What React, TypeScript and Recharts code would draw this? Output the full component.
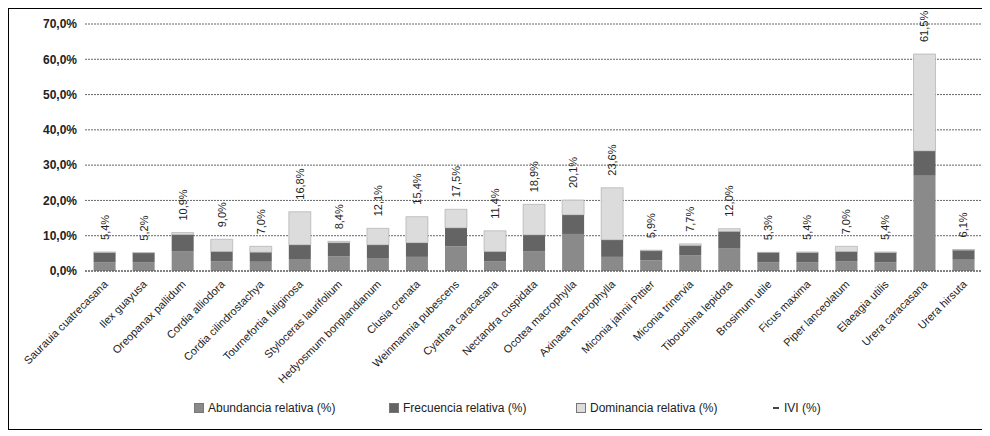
import React from 'react';
import {
  ComposedChart,
  Bar,
  Line,
  XAxis,
  YAxis,
  CartesianGrid,
  LabelList,
} from 'recharts';

// species, read left to right
const species = [
  'Saurauia cuatrecasana',
  'Ilex guayusa',
  'Oreopanax pallidum',
  'Cordia alliodora',
  'Cordia cilindrostachya',
  'Tournefortia fuliginosa',
  'Styloceras laurifolium',
  'Hedyosmum bonplandianum',
  'Clusia crenata',
  'Weinmannia pubescens',
  'Cyathea caracasana',
  'Nectandra cuspidata',
  'Ocotea macrophylla',
  'Axinaea macrophylla',
  'Miconia jahnii Pittier',
  'Miconia trinervia',
  'Tibouchina lepidota',
  'Brosimum utile',
  'Ficus maxima',
  'Piper lanceolatum',
  'Elaeagia utilis',
  'Urera caracasana',
  'Urera hirsuta',
];

const abundancia = [2.5, 2.4, 5.5, 2.8, 2.6, 3.4, 4.2, 3.5, 4.0, 7.0, 2.8, 5.5, 10.5, 4.0, 3.0, 4.5, 6.5, 2.5, 2.5, 2.8, 2.5, 27.0, 3.2];
const frecuencia = [2.7, 2.7, 4.8, 2.7, 2.7, 4.0, 3.8, 3.9, 4.0, 5.2, 2.7, 4.7, 5.4, 4.8, 2.7, 2.7, 4.7, 2.7, 2.7, 2.7, 2.7, 7.0, 2.7];
const dominancia = [0.2, 0.1, 0.6, 3.5, 1.7, 9.4, 0.4, 4.7, 7.4, 5.3, 5.9, 8.7, 4.2, 14.8, 0.2, 0.5, 0.8, 0.1, 0.2, 1.5, 0.2, 27.5, 0.2];
const ivi = [5.4, 5.2, 10.9, 9.0, 7.0, 16.8, 8.4, 12.1, 15.4, 17.5, 11.4, 18.9, 20.1, 23.6, 5.9, 7.7, 12.0, 5.3, 5.4, 7.0, 5.4, 61.5, 6.1];

const yTicks = [0, 10, 20, 30, 40, 50, 60, 70];

const COLORS = {
  abundancia: '#8a8a8a',
  frecuencia: '#646464',
  dominancia: '#dcdcdc',
};

const data = species.map((name, i) => ({
  name,
  abundancia: abundancia[i],
  frecuencia: frecuencia[i],
  dominancia: dominancia[i],
  ivi: ivi[i],
}));

const pct = (v: number) => `${v.toFixed(1).replace('.', ',')}%`;

const FONT = '"Liberation Sans", Arial, sans-serif';

function SpeciesTick({ x, y, payload }: any) {
  return (
    <text
      transform={`translate(${x + 4},${y + 6}) rotate(-45)`}
      textAnchor="end"
      fontSize={11}
      fontFamily={FONT}
      fill="#222"
    >
      {payload.value}
    </text>
  );
}

function IviLabel({ x, y, value }: any) {
  return (
    <text
      transform={`translate(${x + 4},${y - 12}) rotate(-90)`}
      textAnchor="start"
      fontSize={11}
      fontFamily={FONT}
      fill="#222"
    >
      {pct(value)}
    </text>
  );
}

const legendItems = [
  { label: 'Abundancia relativa (%)', color: COLORS.abundancia, left: 185 },
  { label: 'Frecuencia relativa (%)', color: COLORS.frecuencia, left: 380 },
  { label: 'Dominancia relativa (%)', color: COLORS.dominancia, left: 567 },
];

export default function App() {
  return (
    <div
      style={{
        position: 'relative',
        width: 976,
        height: 420,
        border: '1px solid #000',
        background: '#fff',
        fontFamily: FONT,
      }}
    >
      <ComposedChart
        width={976}
        height={420}
        data={data}
        margin={{ top: 15, right: 2, left: 0, bottom: 0 }}
        barCategoryGap="22%"
      >
        <CartesianGrid vertical={false} stroke="#666" strokeDasharray="2 1" />
        <XAxis
          dataKey="name"
          interval={0}
          height={158}
          tick={<SpeciesTick />}
          tickLine={false}
          axisLine={{ stroke: '#555', strokeDasharray: '2 1' }}
        />
        <YAxis
          width={76}
          domain={[0, 70]}
          ticks={yTicks}
          tickFormatter={pct}
          axisLine={false}
          tickLine={false}
          tick={{ fontSize: 12, fontWeight: 'bold', fill: '#222', fontFamily: FONT }}
        />
        <Bar dataKey="abundancia" stackId="a" fill={COLORS.abundancia} isAnimationActive={false} />
        <Bar dataKey="frecuencia" stackId="a" fill={COLORS.frecuencia} isAnimationActive={false} />
        <Bar dataKey="dominancia" stackId="a" fill={COLORS.dominancia} stroke="#999" strokeWidth={0.5} isAnimationActive={false} />
        <Line dataKey="ivi" stroke="none" dot={false} activeDot={false} isAnimationActive={false}>
          <LabelList dataKey="ivi" content={<IviLabel />} />
        </Line>
      </ComposedChart>
      {legendItems.map((item) => (
        <div
          key={item.label}
          style={{
            position: 'absolute',
            left: item.left,
            top: 392,
            display: 'flex',
            alignItems: 'center',
            fontSize: 12,
            color: '#222',
          }}
        >
          <span
            style={{
              display: 'inline-block',
              width: 8,
              height: 8,
              background: item.color,
              border: '1px solid #777',
              marginRight: 4,
            }}
          />
          {item.label}
        </div>
      ))}
      <div
        style={{
          position: 'absolute',
          left: 764,
          top: 392,
          display: 'flex',
          alignItems: 'center',
          fontSize: 12,
          color: '#222',
        }}
      >
        <span
          style={{
            display: 'inline-block',
            width: 6,
            height: 2,
            background: '#444',
            marginRight: 5,
          }}
        />
        IVI (%)
      </div>
    </div>
  );
}
